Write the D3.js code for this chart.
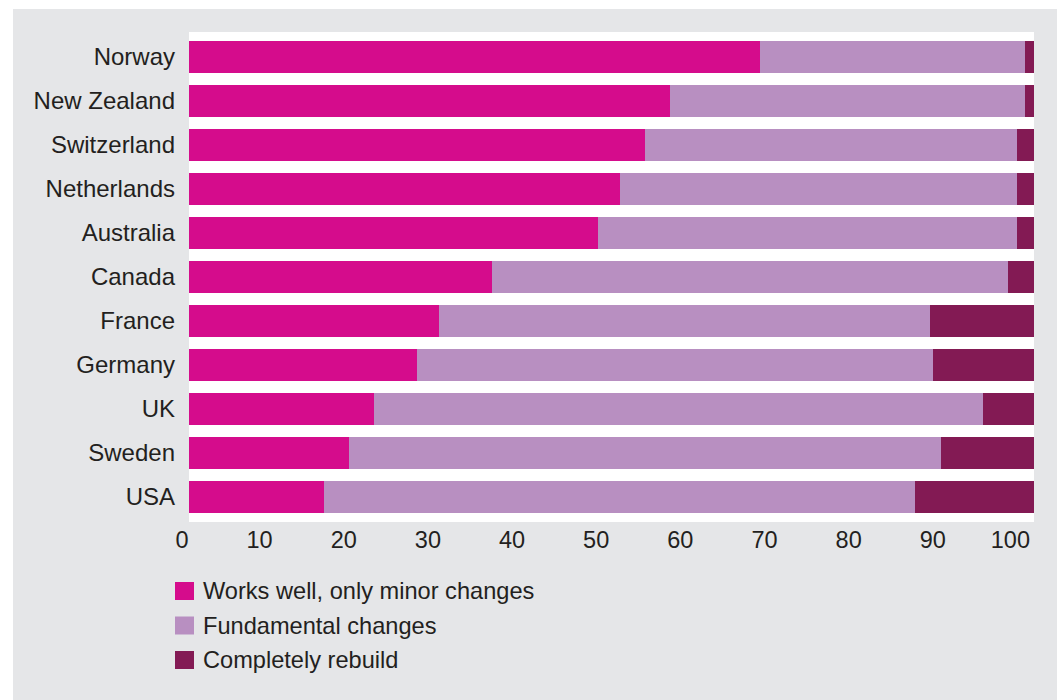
<!DOCTYPE html>
<html>
<head>
<meta charset="utf-8">
<script src="https://cdn.jsdelivr.net/npm/d3@7"></script>
<style>
  html, body { margin: 0; padding: 0; background: #ffffff; }
  svg { display: block; }
  text { font-family: "Liberation Sans", Arial, Helvetica, sans-serif; fill: #231f20; }
</style>
</head>
<body>
<svg id="chart" width="1061" height="700"></svg>
<script>
const countries = ["Norway", "New Zealand", "Switzerland", "Netherlands", "Australia", "Canada", "France", "Germany", "UK", "Sweden", "USA"];
const worksWell   = [67.6, 57.0, 54.0, 51.0, 48.4, 35.9, 29.6, 27.0, 21.9, 18.9, 16.0];
const fundamental = [31.4, 42.0, 44.0, 47.0, 49.6, 61.1, 58.1, 61.1, 72.1, 70.1, 70.0];
const rebuild     = [1.0, 1.0, 2.0, 2.0, 2.0, 3.0, 12.3, 11.9, 6.0, 11.0, 14.0];
const seriesNames = ["Works well, only minor changes", "Fundamental changes", "Completely rebuild"];
const seriesKeys  = ["works", "fund", "rebuild"];
const xTicks = [0, 10, 20, 30, 40, 50, 60, 70, 80, 90, 100];

const colors = ["#d50c8c", "#b88fc1", "#831a54"];

const svg = d3.select("#chart");
const W = 1061, H = 700;

// panel background
svg.append("rect").attr("x", 13).attr("y", 9).attr("width", 1044).attr("height", H - 9).attr("fill", "#e5e6e8");

const plot = { left: 189, right: 1034, top: 32, bottom: 522 };
svg.append("rect")
  .attr("x", plot.left).attr("y", plot.top)
  .attr("width", plot.right - plot.left).attr("height", plot.bottom - plot.top)
  .attr("fill", "#ffffff");

const x = d3.scaleLinear().domain([0, 100]).range([189, 1033.5]);
const y = d3.scaleBand().domain(countries).range([plot.top, plot.bottom])
  .paddingInner(12 / 44).paddingOuter(9 / 44);

const table = countries.map((c, i) => ({ country: c, works: worksWell[i], fund: fundamental[i], rebuild: rebuild[i] }));
const stacked = d3.stack().keys(seriesKeys)(table);

svg.append("g").selectAll("g")
  .data(stacked)
  .join("g")
  .attr("fill", (d, i) => colors[i])
  .selectAll("rect")
  .data(d => d)
  .join("rect")
  .attr("x", d => x(d[0]))
  .attr("width", d => x(d[1]) - x(d[0]))
  .attr("y", d => y(d.data.country))
  .attr("height", y.bandwidth())
  .attr("shape-rendering", "crispEdges");

// category labels
svg.append("g").selectAll("text")
  .data(countries)
  .join("text")
  .attr("x", 175)
  .attr("y", d => y(d) + y.bandwidth() / 2 + 7.5)
  .attr("text-anchor", "end")
  .attr("font-size", "24px")
  .text(d => d);

// x axis
const xAxis = d3.axisBottom(x).tickValues(xTicks).tickSize(0).tickFormat(d3.format("d"));
const gx = svg.append("g").attr("transform", `translate(0,${plot.bottom})`).call(xAxis);
gx.select(".domain").remove();
gx.selectAll("text")
  .attr("y", 26).attr("dy", 0).attr("dx", d => -1 - d * 0.03)
  .attr("text-anchor", "end")
  .attr("font-size", "23.5px")
  .attr("font-family", "Liberation Sans, Arial, sans-serif")
  .attr("fill", "#231f20");

// legend
const legend = svg.append("g").selectAll("g")
  .data(seriesNames)
  .join("g")
  .attr("transform", (d, i) => `translate(175,${582 + i * 34.5})`);
legend.append("rect").attr("width", 19).attr("height", 18).attr("fill", (d, i) => colors[i]);
legend.append("text").attr("x", 28).attr("y", 17).attr("font-size", "23.6px").text(d => d);
</script>
</body>
</html>
